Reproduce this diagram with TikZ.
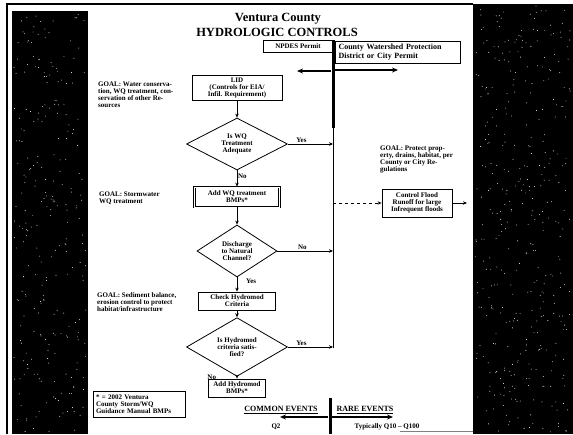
\documentclass[tikz,border=0pt]{standalone}
\usepackage{fontspec}
\setmainfont{Liberation Serif}
\usetikzlibrary{shapes.geometric,arrows.meta}
\begin{document}
\begin{tikzpicture}[x=1pt,y=-1pt,
  tiny/.style={font=\fontsize{7}{7}\selectfont\bfseries},
  mid/.style={font=\fontsize{8}{8.5}\selectfont\bfseries},
  box/.style={draw, line width=0.8pt, align=center, inner sep=1pt, tiny},
  dec/.style={diamond, draw, line width=0.8pt, align=center, inner sep=0pt, tiny},
  note/.style={anchor=north west, align=left, inner sep=0pt, tiny},
  lbl/.style={inner sep=0.5pt, tiny},
  flow/.style={-{Stealth[length=4pt,width=3.5pt]}, line width=1pt},
  barline/.style={line width=3pt},
  bigarrow/.style={-{Stealth[length=6pt,width=5pt]}, line width=1.8pt},
  titlefont/.style={font=\fontsize{12.5}{12.5}\selectfont\bfseries, inner sep=0pt}]
\useasboundingbox (0,0) rectangle (573,434);
% scanned page background
\fill[white] (0,0) rectangle (573,434);
\fill[black] (12,11) rectangle (88,434);
\fill[black] (473,4) rectangle (573,434);
\draw[line width=2pt] (7,434) -- (7,4) -- (473,4);
\draw[gray, line width=0.8pt] (400,431) -- (473,431);
\pgfmathsetseed{7}
\foreach \i in {1,...,260} {\fill[white] ({14+72*rnd},{13+419*rnd}) circle (0.45);}
\foreach \i in {1,...,380} {\fill[white] ({475+96*rnd},{6+426*rnd}) circle (0.45);}
% title
\node[titlefont] (t1) at (278,19) {Ventura County};
\node[titlefont] (t2) at (277,32) {HYDROLOGIC CONTROLS};
% permits
\node[box, minimum width=70pt, minimum height=12pt] (npdes) at (298,46) {NPDES Permit};
\node[box, minimum width=125pt, minimum height=22pt, align=left, text width=118pt, mid] (county) at (397.5,52) {County Watershed Protection\\District or City Permit};
\coordinate (barTop) at (333,40);
\coordinate (barMid) at (333,128);
\coordinate (barBot) at (333,347.5);
\draw[barline] (barTop) -- (barMid);
\draw[line width=1pt] (barMid) -- (barBot);
\coordinate (rA) at (335,70);
\coordinate (rB) at (398,70);
\coordinate (lA) at (331,71);
\coordinate (lB) at (297,71);
\draw[bigarrow] (rA) -- (rB);
\draw[bigarrow] (lA) -- (lB);
% main flow
\node[box, minimum width=90pt, minimum height=25pt] (lid) at (237,87.5) {LID\\(Controls for EIA/\\Infil. Requirement)};
\node[note] (n1) at (98,82) {GOAL: Water conserva-\\tion, WQ treatment, con-\\servation of other Re-\\sources};
\node[dec, minimum width=101pt, minimum height=52pt] (d1) at (237,144) {Is WQ\\Treatment\\Adequate};
\node[box, double, double distance=0.7pt, minimum width=85pt, minimum height=20pt] (b2) at (237,197) {Add WQ treatment\\BMPs*};
\node[note] (n2) at (99,192) {GOAL: Stormwater\\WQ treatment};
\node[dec, minimum width=80pt, minimum height=52pt] (d2) at (237,251) {Discharge\\to Natural\\Channel?};
\node[box, minimum width=77pt, minimum height=18pt] (b3) at (237,301) {Check Hydromod\\Criteria};
\node[note] (n3) at (97,292) {GOAL: Sediment balance,\\erosion control to protect\\habitat/infrastructure};
\node[dec, minimum width=101pt, minimum height=50pt] (d3) at (237,347) {Is Hydromod\\criteria satis-\\fied?};
\node[box, minimum width=57pt, minimum height=18pt] (b4) at (237,388) {Add Hydromod\\BMPs*};
\node[box, minimum width=92pt, minimum height=26pt, align=left, text width=86pt] (legend) at (139,404) {* = 2002 Ventura\\County Storm/WQ\\Guidance Manual BMPs};
\draw[flow] (lid) -- (d1);
\draw[flow] (d1) -- node[lbl, right, pos=0.35]{No} (b2);
\draw[flow] (b2) -- (d2);
\draw[flow] (d2) -- node[lbl, right, pos=0.3, xshift=8pt]{Yes} (b3);
\draw[flow] (b3) -- (d3);
\draw[flow] (d3) -- node[lbl, left, pos=0.3, xshift=-20pt]{No} (b4);
\coordinate (j1) at (333,144);
\coordinate (j2) at (333,251);
\coordinate (j3) at (333,347);
\draw[flow] (d1.east) -- node[lbl, above, pos=0.3]{Yes} (j1);
\draw[flow] (d2.east) -- node[lbl, above, pos=0.45]{No} (j2);
\draw[flow] (d3.east) -- node[lbl, above, pos=0.3]{Yes} (j3);
% flood branch
\node[note] (n4) at (380,146) {GOAL: Protect prop-\\erty, drains, habitat, per\\County or City Re-\\gulations};
\node[box, minimum width=70pt, minimum height=28pt] (flood) at (417,203) {Control Flood\\Runoff for large\\Infrequent floods};
\coordinate (jf) at (333,203);
\coordinate (fout) at (467,203);
\draw[flow, dashed] (jf) -- (flood);
\draw[flow] (flood) -- (fout);
% event scale
\coordinate (bbTop) at (330,398);
\coordinate (bbBot) at (330,434);
\draw[barline] (bbTop) -- (bbBot);
\node[lbl, mid] (common) at (281,410) {\underline{COMMON EVENTS}};
\node[lbl, mid] (rare) at (365,410) {\underline{RARE EVENTS}};
\coordinate (cA) at (328,417);
\coordinate (cB) at (280,417);
\coordinate (rrA) at (332,417);
\coordinate (rrB) at (393,417);
\draw[bigarrow] (cA) -- (cB);
\draw[bigarrow] (rrA) -- (rrB);
\node[lbl] (q2) at (276,427) {Q2};
\node[lbl] (q10) at (387,427) {Typically Q10 -- Q100};
\end{tikzpicture}
\end{document}
